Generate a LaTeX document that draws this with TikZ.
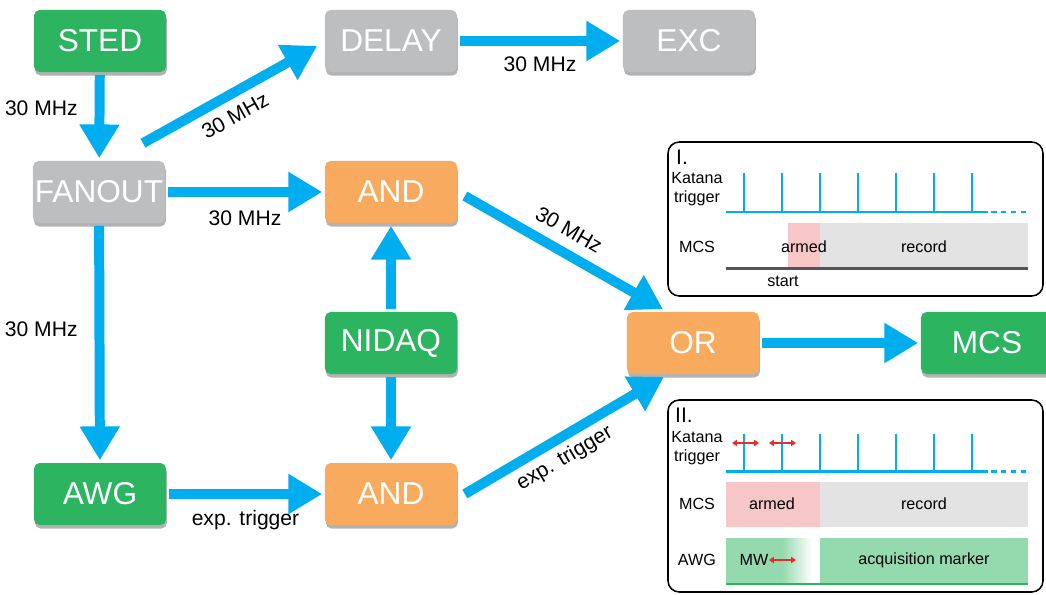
\documentclass[tikz,border=0pt]{standalone}
\usepackage{fontspec}
\setmainfont{Liberation Sans}
\usetikzlibrary{arrows.meta,shadows,calc}
\definecolor{cgreen}{HTML}{2DB461}
\definecolor{cgray}{HTML}{BDBEC0}
\definecolor{corange}{HTML}{F8AA5E}
\definecolor{cblue}{HTML}{00AEEF}
\definecolor{cpink}{HTML}{F7C6C7}
\definecolor{clgray}{HTML}{E3E3E3}
\definecolor{clgreen}{HTML}{95D9AE}
\definecolor{cred}{HTML}{EE2A2A}
\definecolor{cdark}{HTML}{555555}
\tikzset{
  box/.style={minimum width=3.3cm, minimum height=1.55cm, rounded corners=4pt,
    text=white, font=\fontsize{22.5}{25}\selectfont, inner sep=0pt, outer sep=2pt,
    drop shadow={shadow xshift=0.6pt, shadow yshift=-2.5pt, opacity=0.3, fill=black}},
  bigarrow/.style={draw=cblue, line width=7.1pt, -{Triangle[length=24pt,width=27pt]}},
  lbl/.style={font=\fontsize{15}{17}\selectfont, inner sep=0pt, text=black},
  ptxt/.style={font=\fontsize{11.5}{13.5}\selectfont, inner sep=0pt, text=black, align=center},
  panel/.style={draw=black, line width=1.1pt, rounded corners=8pt},
  tick/.style={draw=cblue, line width=1.7pt},
  redarr/.style={draw=cred, line width=1.1pt, {Triangle[length=3.5pt,width=4.5pt]}-{Triangle[length=3.5pt,width=4.5pt]}}
}
\begin{document}
\begin{tikzpicture}[x=0.025cm,y=-0.025cm]
\path[use as bounding box] (0,0) rectangle (1046,594);

% boxes
\node[box, fill=cgreen] (sted) at (100,41) {STED};
\node[box, fill=cgray] (fanout) at (99,192) {FANOUT};
\node[box, fill=cgray] (delay) at (391,41) {DELAY};
\node[box, fill=cgray] (exc) at (689,41) {EXC};
\node[box, fill=corange] (andt) at (391,192) {AND};
\node[box, fill=cgreen] (nidaq) at (391,343) {NIDAQ};
\node[box, fill=corange] (andb) at (391,494) {AND};
\node[box, fill=cgreen] (awg) at (100,494) {AWG};
\node[box, fill=corange] (or) at (693,343) {OR};
\node[box, fill=cgreen] (mcs) at (987,343) {MCS};

% connectors
\draw[bigarrow] (sted) -- node[lbl, pos=0.4, left=12pt] {30 MHz} (fanout);
\draw[bigarrow] ($(fanout.north)+(44,-15)$) -- node[lbl, pos=0.47, sloped, below=6pt] {30 MHz} ($(delay.west)+(-5,5)$);
\draw[bigarrow] (delay) -- node[lbl, midway, below=8pt] {30 MHz} (exc);
\draw[bigarrow] (fanout) -- node[lbl, midway, below=10pt] {30 MHz} (andt);
\draw[bigarrow] (fanout) -- node[lbl, pos=0.44, left=12pt] {30 MHz} (awg);
\draw[bigarrow] (nidaq) -- (andt);
\draw[bigarrow] (nidaq) -- (andb);
\draw[bigarrow] (awg) -- node[lbl, midway, below=8pt] {exp. trigger} (andb);
\draw[bigarrow] ($(andt.east)+(5,4)$) -- node[lbl, pos=0.47, sloped, above=7pt] {30 MHz} ($(or.north)+(-30,0)$);
\draw[bigarrow] ($(andb.east)+(5,0)$) -- node[lbl, pos=0.45, sloped, below=4pt] {exp. trigger} ($(or.south)+(-29,0)$);
\draw[bigarrow] (or) -- (mcs);

% panel I
\draw[panel] (668,142) rectangle (1043,296);
\node[font=\fontsize{15}{17}\selectfont, inner sep=0pt] (p1title) at (682,157) {I.};
\node[ptxt] (p1kat) at (697,189.5) {Katana\\trigger};
\fill[cpink] (788,223) rectangle (820,267);
\fill[clgray] (820,223) rectangle (1028,267);
\draw[cdark, line width=1.5pt] (726,268.5) -- (1028,268.5);
\draw[tick] (726,212) -- (988,212);
\draw[tick, dash pattern=on 4pt off 3pt] (991,212) -- (1030,212);
\foreach \i in {0,...,6} { \draw[tick] (744+38*\i,212) -- (744+38*\i,173); }
\node[ptxt] (p1mcs) at (697,247) {MCS};
\node[ptxt] (p1armed) at (804,247) {armed};
\node[ptxt] (p1record) at (924,247) {record};
\node[ptxt] (p1start) at (783,281) {start};

% panel II
\draw[panel] (668,400) rectangle (1043,592);
\node[font=\fontsize{15}{17}\selectfont, inner sep=0pt] (p2title) at (684,415) {II.};
\node[ptxt] (p2kat) at (697,448.5) {Katana\\trigger};
\draw[tick] (726,471.5) -- (988,471.5);
\draw[tick, dash pattern=on 4pt off 3pt] (991,471.5) -- (1030,471.5);
\foreach \i in {0,...,6} { \draw[tick] (744+38*\i,471.5) -- (744+38*\i,434); }
\draw[redarr] (732,443) -- (759,443);
\draw[redarr] (769,443) -- (796,443);
\fill[cpink] (726,482) rectangle (820,527);
\fill[clgray] (820,482) rectangle (1028,527);
\node[ptxt] (p2mcs) at (697,504) {MCS};
\node[ptxt] (p2armed) at (772,504) {armed};
\node[ptxt] (p2record) at (924,504) {record};
\fill[clgreen] (726,538) rectangle (782,584);
\shade[left color=clgreen, right color=white] (782,538) rectangle (812,584);
\fill[clgreen] (820,538) rectangle (1028,584);
\draw[cgreen, line width=1.5pt] (726,584) -- (1028,584);
\node[ptxt] (p2awg) at (697,560) {AWG};
\node[ptxt] (p2mw) at (754,560) {MW};
\draw[redarr] (769,560) -- (796,560);
\node[ptxt] (p2acq) at (924,560) {acquisition marker};
\end{tikzpicture}
\end{document}
